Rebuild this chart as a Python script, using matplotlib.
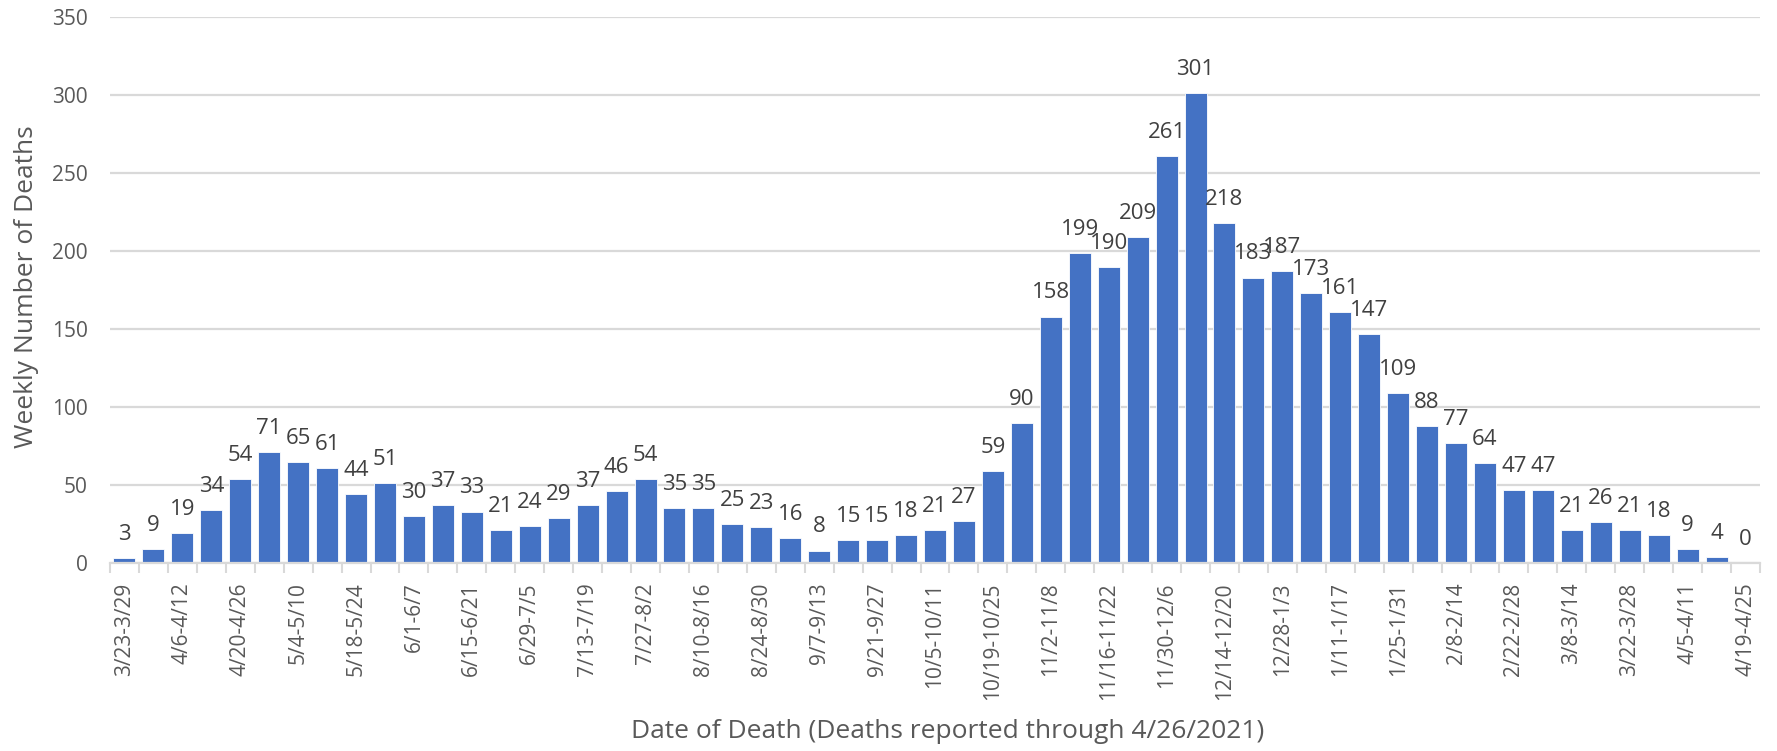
import matplotlib
matplotlib.use("Agg")
import matplotlib.pyplot as plt
import numpy as np

weeks = ["3/23-3/29", "3/30-4/5", "4/6-4/12", "4/13-4/19", "4/20-4/26", "4/27-5/3",
         "5/4-5/10", "5/11-5/17", "5/18-5/24", "5/25-5/31", "6/1-6/7", "6/8-6/14",
         "6/15-6/21", "6/22-6/28", "6/29-7/5", "7/6-7/12", "7/13-7/19", "7/20-7/26",
         "7/27-8/2", "8/3-8/9", "8/10-8/16", "8/17-8/23", "8/24-8/30", "8/31-9/6",
         "9/7-9/13", "9/14-9/20", "9/21-9/27", "9/28-10/4", "10/5-10/11", "10/12-10/18",
         "10/19-10/25", "10/26-11/1", "11/2-11/8", "11/9-11/15", "11/16-11/22",
         "11/23-11/29", "11/30-12/6", "12/7-12/13", "12/14-12/20", "12/21-12/27",
         "12/28-1/3", "1/4-1/10", "1/11-1/17", "1/18-1/24", "1/25-1/31", "2/1-2/7",
         "2/8-2/14", "2/15-2/21", "2/22-2/28", "3/1-3/7", "3/8-3/14", "3/15-3/21",
         "3/22-3/28", "3/29-4/4", "4/5-4/11", "4/12-4/18", "4/19-4/25"]
deaths = [3, 9, 19, 34, 54, 71, 65, 61, 44, 51, 30, 37, 33, 21, 24, 29, 37, 46, 54, 35,
          35, 25, 23, 16, 8, 15, 15, 18, 21, 27, 59, 90, 158, 199, 190, 209, 261, 301,
          218, 183, 187, 173, 161, 147, 109, 88, 77, 64, 47, 47, 21, 26, 21, 18, 9, 4, 0]
y_ticks = [0, 50, 100, 150, 200, 250, 300, 350]
x_title = "Date of Death (Deaths reported through 4/26/2021)"
y_title = "Weekly Number of Deaths"

plt.rcParams['font.family'] = ['Open Sans', 'DejaVu Sans']
W, H = 1777, 751
fig = plt.figure(figsize=(W / 100, H / 100), dpi=100)
ax = fig.add_axes([110 / W, (H - 563) / H, 1650 / W, (563 - 17) / H])

x = np.arange(len(deaths))
ax.bar(x, deaths, width=0.76, color="#4472C4", edgecolor="white", linewidth=0.6, zorder=3)

for xi, v in zip(x, deaths):
    ax.annotate(str(v), (xi, v), xytext=(0, 13), textcoords="offset points",
                ha="center", va="baseline", fontsize=16, color="#404040")

ax.set_xlim(-0.5, len(deaths) - 0.5)
ax.set_ylim(0, 350)
ax.set_yticks(y_ticks)
ax.set_yticklabels([str(t) for t in y_ticks], fontsize=15, color="#595959")
ax.yaxis.grid(True, color="#D9D9D9", linewidth=1.6, zorder=0)
ax.tick_params(axis="y", length=0, pad=16)

ax.set_xticks(x[::2])
ax.set_xticklabels(weeks[::2], rotation=90, fontsize=15, color="#595959", va="top")
ax.set_xticks(np.arange(len(deaths) + 1) - 0.5, minor=True)
ax.tick_params(axis="x", which="major", length=0, pad=14)
ax.tick_params(axis="x", which="minor", length=7, width=1.5, color="#D9D9D9")

for s in ["top", "right", "left"]:
    ax.spines[s].set_visible(False)
ax.spines["bottom"].set_color("#D9D9D9")
ax.spines["bottom"].set_linewidth(1.6)
ax.spines["bottom"].set_zorder(4)

fig.text(948 / W, (H - 732) / H, x_title, ha="center", va="center", fontsize=19, color="#595959")
fig.text(27 / W, (H - 287) / H, y_title, ha="center", va="center", rotation=90, fontsize=19, color="#595959")

fig.savefig("out.png", dpi=100)
